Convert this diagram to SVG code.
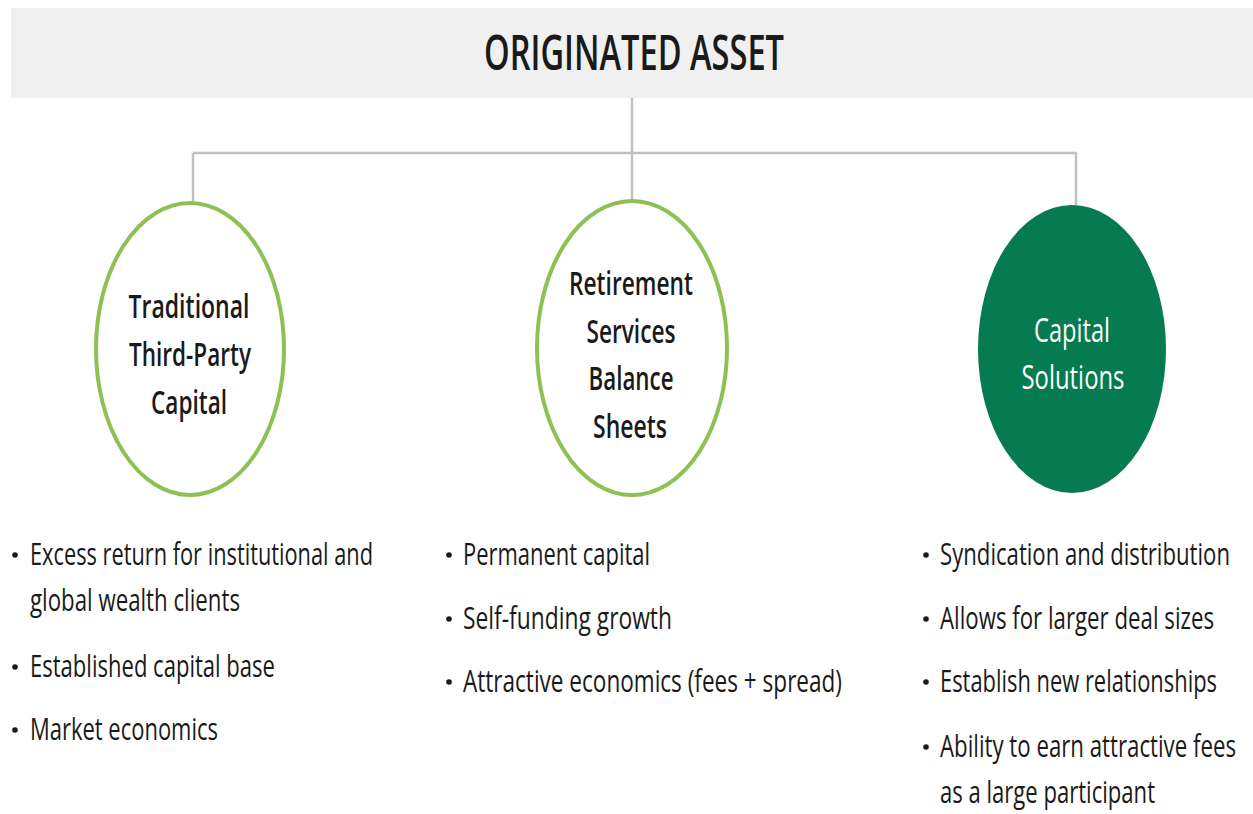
<svg xmlns="http://www.w3.org/2000/svg" width="1253" height="814" viewBox="0 0 1253 814">
<style>
  .t { font-family: "Open Sans", "Noto Sans", "Liberation Sans", sans-serif; fill: #1a1a1a; }
  .hdr { font-size: 48px; text-anchor: middle; font-weight: 600; }
  .node { font-size: 33px; text-anchor: middle; font-weight: 600; }
  .w { fill: #ffffff; font-weight: 500; }
  .b { font-size: 31px; }
  .conn { stroke: #c0c0c0; stroke-width: 2.5; fill: none; }
  .ring { fill: #ffffff; stroke: #8dc153; stroke-width: 4; }
  .solid { fill: #067a50; }
  .dot { fill: #1a1a1a; }
</style>
<rect x="0" y="0" width="1253" height="814" fill="#ffffff"/>
<g id="header">
  <rect x="11" y="8" width="1242" height="90" fill="#f0f0f0"/>
  <text class="t hdr" x="634" y="70" textLength="300" lengthAdjust="spacingAndGlyphs">ORIGINATED ASSET</text>
</g>
<g id="connectors">
  <path class="conn" d="M632,98 V200"/>
  <path class="conn" d="M193,153 H1077"/>
  <path class="conn" d="M193,153 V204"/>
  <path class="conn" d="M1076,153 V206"/>
</g>
<g id="node-traditional">
  <ellipse class="ring" cx="190" cy="349" rx="94" ry="146"/>
  <text class="t node" x="189" y="318" textLength="121" lengthAdjust="spacingAndGlyphs">Traditional</text>
  <text class="t node" x="190" y="366" textLength="122" lengthAdjust="spacingAndGlyphs">Third-Party</text>
  <text class="t node" x="189" y="414" textLength="76" lengthAdjust="spacingAndGlyphs">Capital</text>
</g>
<g id="node-retirement">
  <ellipse class="ring" cx="632" cy="348" rx="95" ry="147"/>
  <text class="t node" x="631" y="295" textLength="124" lengthAdjust="spacingAndGlyphs">Retirement</text>
  <text class="t node" x="631" y="343" textLength="89" lengthAdjust="spacingAndGlyphs">Services</text>
  <text class="t node" x="631" y="390" textLength="85" lengthAdjust="spacingAndGlyphs">Balance</text>
  <text class="t node" x="630" y="438" textLength="74" lengthAdjust="spacingAndGlyphs">Sheets</text>
</g>
<g id="node-capital-solutions">
  <ellipse class="solid" cx="1072" cy="349" rx="94" ry="144"/>
  <text class="t node w" x="1072" y="342" textLength="76" lengthAdjust="spacingAndGlyphs">Capital</text>
  <text class="t node w" x="1073" y="389" textLength="103" lengthAdjust="spacingAndGlyphs">Solutions</text>
</g>
<g id="bullets-traditional">
  <circle class="dot" cx="15" cy="555" r="2.8"/>
  <text class="t b" x="30" y="565" textLength="343" lengthAdjust="spacingAndGlyphs">Excess return for institutional and</text>
  <text class="t b" x="30" y="611" textLength="210" lengthAdjust="spacingAndGlyphs">global wealth clients</text>
  <circle class="dot" cx="15" cy="667" r="2.8"/>
  <text class="t b" x="30" y="677" textLength="245" lengthAdjust="spacingAndGlyphs">Established capital base</text>
  <circle class="dot" cx="15" cy="730" r="2.8"/>
  <text class="t b" x="30" y="740" textLength="188" lengthAdjust="spacingAndGlyphs">Market economics</text>
</g>
<g id="bullets-retirement">
  <circle class="dot" cx="449" cy="555" r="2.8"/>
  <text class="t b" x="463" y="565" textLength="187" lengthAdjust="spacingAndGlyphs">Permanent capital</text>
  <circle class="dot" cx="449" cy="619" r="2.8"/>
  <text class="t b" x="463" y="629" textLength="209" lengthAdjust="spacingAndGlyphs">Self-funding growth</text>
  <circle class="dot" cx="449" cy="682" r="2.8"/>
  <text class="t b" x="463" y="692" textLength="379" lengthAdjust="spacingAndGlyphs">Attractive economics (fees + spread)</text>
</g>
<g id="bullets-capital-solutions">
  <circle class="dot" cx="926" cy="555" r="2.8"/>
  <text class="t b" x="940" y="565" textLength="290" lengthAdjust="spacingAndGlyphs">Syndication and distribution</text>
  <circle class="dot" cx="926" cy="619" r="2.8"/>
  <text class="t b" x="940" y="629" textLength="274" lengthAdjust="spacingAndGlyphs">Allows for larger deal sizes</text>
  <circle class="dot" cx="926" cy="682" r="2.8"/>
  <text class="t b" x="940" y="692" textLength="277" lengthAdjust="spacingAndGlyphs">Establish new relationships</text>
  <circle class="dot" cx="926" cy="747" r="2.8"/>
  <text class="t b" x="940" y="757" textLength="296" lengthAdjust="spacingAndGlyphs">Ability to earn attractive fees</text>
  <text class="t b" x="940" y="803" textLength="215" lengthAdjust="spacingAndGlyphs">as a large participant</text>
</g>
</svg>
